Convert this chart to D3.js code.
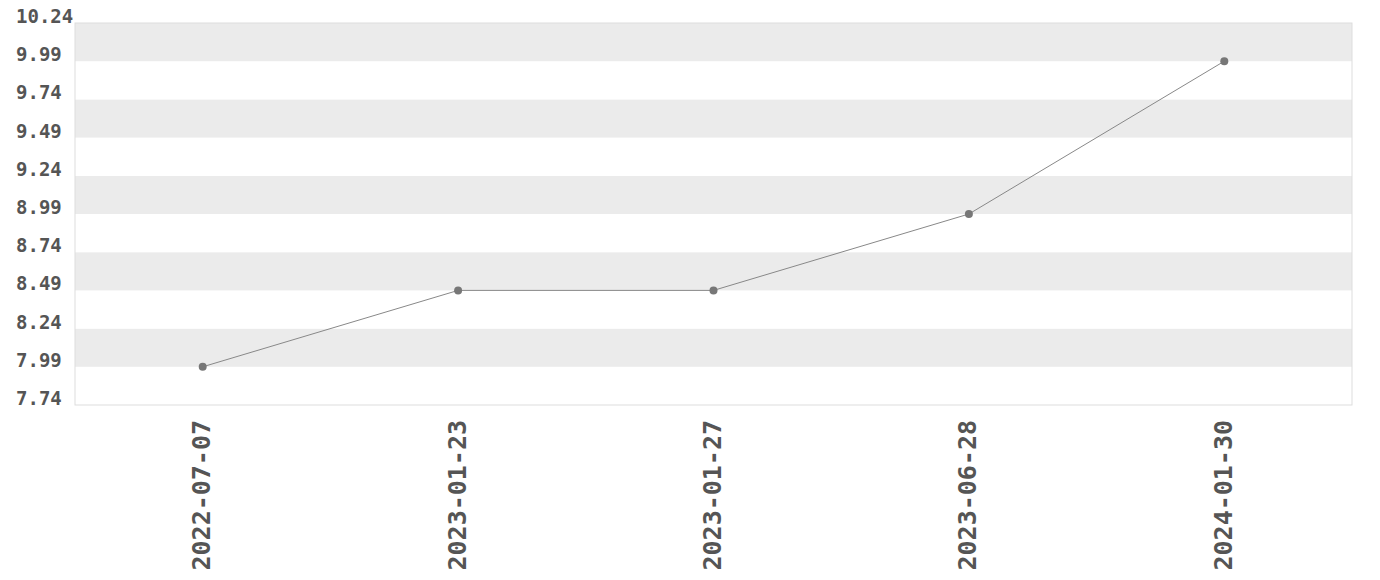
<!DOCTYPE html>
<html><head><meta charset="utf-8">
<script src="https://cdn.jsdelivr.net/npm/d3@7"></script>
<style>body{margin:0;background:#fff}</style>
</head><body>
<svg id="c" width="1380" height="580"></svg>
<script>
const categories = ["2022-07-07","2023-01-23","2023-01-27","2023-06-28","2024-01-30"];
const values = [7.99, 8.49, 8.49, 8.99, 9.99];
const yTicks = [7.74, 7.99, 8.24, 8.49, 8.74, 8.99, 9.24, 9.49, 9.74, 9.99, 10.24];

const m = {l:75, r:28, t:23, b:175};
const W = 1380, H = 580;
const svg = d3.select("#c");
const x = d3.scaleBand().domain(categories).range([m.l, W - m.r]).padding(0);
const y = d3.scaleLinear().domain([7.74, 10.24]).range([H - m.b, m.t]);
const font = "'DejaVu Sans Mono', monospace";

// bands
const bands = d3.range(yTicks.length - 1).map(i => [yTicks[i], yTicks[i+1]]);
svg.append("g").selectAll("rect").data(bands).join("rect")
  .attr("x", m.l).attr("width", W - m.r - m.l)
  .attr("y", d => y(d[1])).attr("height", d => y(d[0]) - y(d[1]))
  .attr("fill", (d, i) => (yTicks.length - 2 - i) % 2 === 0 ? "#ebebeb" : "#ffffff");

svg.append("rect").attr("x", m.l).attr("y", m.t)
  .attr("width", W - m.r - m.l).attr("height", H - m.b - m.t)
  .attr("fill", "none").attr("stroke", "#dddddd").attr("stroke-width", 1);

// y labels
svg.append("g").selectAll("text").data(yTicks).join("text")
  .attr("x", 16).attr("y", d => y(d))
  .attr("font-family", font).attr("font-weight", "bold").attr("font-size", 19)
  .attr("fill", "#555").text(d => d.toFixed(2));

// x labels
svg.append("g").selectAll("text").data(categories).join("text")
  .attr("transform", d => `translate(${x(d) + x.bandwidth()/2},${H - m.b + 15}) rotate(-90)`)
  .attr("dy", "0.3em").attr("text-anchor", "end")
  .attr("font-family", font).attr("font-weight", "bold").attr("font-size", 25)
  .attr("fill", "#555").text(d => d);

const cx = (d, i) => x(categories[i]) + x.bandwidth()/2;
svg.append("path").datum(values)
  .attr("d", d3.line().x((d, i) => cx(d, i)).y(d => y(d)))
  .attr("fill", "none").attr("stroke", "#888").attr("stroke-width", 1);

svg.append("g").selectAll("circle").data(values).join("circle")
  .attr("cx", (d, i) => cx(d, i)).attr("cy", d => y(d)).attr("r", 4)
  .attr("fill", "#777");
</script>
</body></html>
